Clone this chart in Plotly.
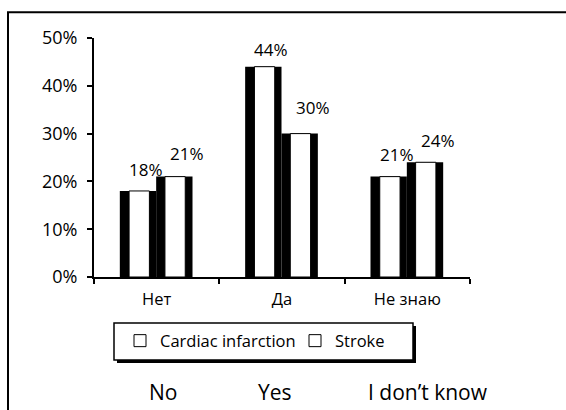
import plotly.graph_objects as go

# Survey answers (share of respondents)
categories = ["Нет", "Да", "Не знаю"]
english_labels = ["No", "Yes", "I don\u2019t know"]
series_names = ["Cardiac infarction", "Stroke"]
cardiac_infarction = [0.18, 0.44, 0.21]
stroke = [0.21, 0.30, 0.24]
y_ticks = [0, 0.1, 0.2, 0.3, 0.4, 0.5]

FONT = "Open Sans"
FS = 16.5

# figure geometry in pixels
W, H = 566, 410
PL, PR, PT, PB = 94, 96, 37.7, 133
pw, ph = W - PL - PR, H - PT - PB


def px_x(p):
    return (p - PL) / pw


def px_y(p):
    return (H - PB - p) / ph


series = [cardiac_infarction, stroke]
# black body of each bar and its white face (category units)
body_offset = [-0.294, -0.004]
body_width = 0.29
face_offset = [-0.22, 0.066]
face_width = 0.162
# value label placement relative to the bar top
label_dx = [-0.085, 0.245]
label_lift = [[8, 4, 9], [10, 13, 8]]

fig = go.Figure()
for k, vals in enumerate(series):
    fig.add_trace(go.Bar(
        x=categories, y=vals, offset=body_offset[k], width=body_width,
        marker=dict(color="black", line=dict(width=0)),
        showlegend=False, hoverinfo="skip",
    ))
for k, vals in enumerate(series):
    fig.add_trace(go.Bar(
        x=categories, y=vals, offset=face_offset[k], width=face_width,
        name=series_names[k],
        marker=dict(color="white", line=dict(color="black", width=1)),
    ))

annotations = []
for k, vals in enumerate(series):
    for i, v in enumerate(vals):
        annotations.append(dict(
            x=i + label_dx[k], y=v, xref="x", yref="y",
            text=f"{round(v * 100)}%", showarrow=False,
            yanchor="bottom", yshift=label_lift[k][i],
            font=dict(family=FONT, size=17, color="black"),
        ))

bottom_x = [163, 275, 428]
for lbl, bx in zip(english_labels, bottom_x):
    annotations.append(dict(
        x=px_x(bx), y=px_y(392), xref="paper", yref="paper",
        text=lbl, showarrow=False, xanchor="center", yanchor="middle",
        font=dict(family=FONT, size=21, color="black"),
    ))

shapes = [
    # outer frame
    dict(type="rect", xref="paper", yref="paper",
         x0=px_x(8), x1=px_x(575), y0=px_y(420), y1=px_y(12),
         line=dict(color="black", width=2), fillcolor="rgba(0,0,0,0)",
         layer="below"),
    # legend box shadow and box
    dict(type="rect", xref="paper", yref="paper",
         x0=px_x(117), x1=px_x(416), y0=px_y(363), y1=px_y(326),
         line=dict(width=0), fillcolor="black", layer="above"),
    dict(type="rect", xref="paper", yref="paper",
         x0=px_x(114), x1=px_x(413), y0=px_y(360), y1=px_y(323),
         line=dict(color="black", width=1.5), fillcolor="white", layer="above"),
]

fig.update_layout(
    width=W, height=H,
    margin=dict(l=PL, r=PR, t=PT, b=PB, pad=0),
    paper_bgcolor="white", plot_bgcolor="white",
    barmode="overlay",
    font=dict(family=FONT, size=FS, color="black"),
    showlegend=True,
    legend=dict(
        orientation="h", x=px_x(120), y=px_y(341),
        xanchor="left", yanchor="middle",
        bgcolor="rgba(0,0,0,0)", borderwidth=0,
        entrywidth=130, entrywidthmode="pixels",
        font=dict(family=FONT, size=FS, color="black"),
    ),
    xaxis=dict(
        type="category", categoryorder="array", categoryarray=categories,
        range=[-0.5, 2.5], tickson="boundaries", ticks="outside",
        ticklen=5, tickwidth=1.5, tickcolor="black",
        showline=True, linecolor="black", linewidth=2,
        showgrid=False, zeroline=False, ticklabelstandoff=6,
        tickfont=dict(family=FONT, size=FS, color="black"),
    ),
    yaxis=dict(
        range=[0, 0.5], tickvals=y_ticks, tickformat=".0%",
        ticks="outside", ticklen=5, tickwidth=1.5, tickcolor="black",
        showline=True, linecolor="black", linewidth=2,
        showgrid=False, zeroline=False, ticklabelstandoff=6,
        tickfont=dict(family=FONT, size=18, color="black"),
    ),
    annotations=annotations,
    shapes=shapes,
)

fig.write_html("out.html")
